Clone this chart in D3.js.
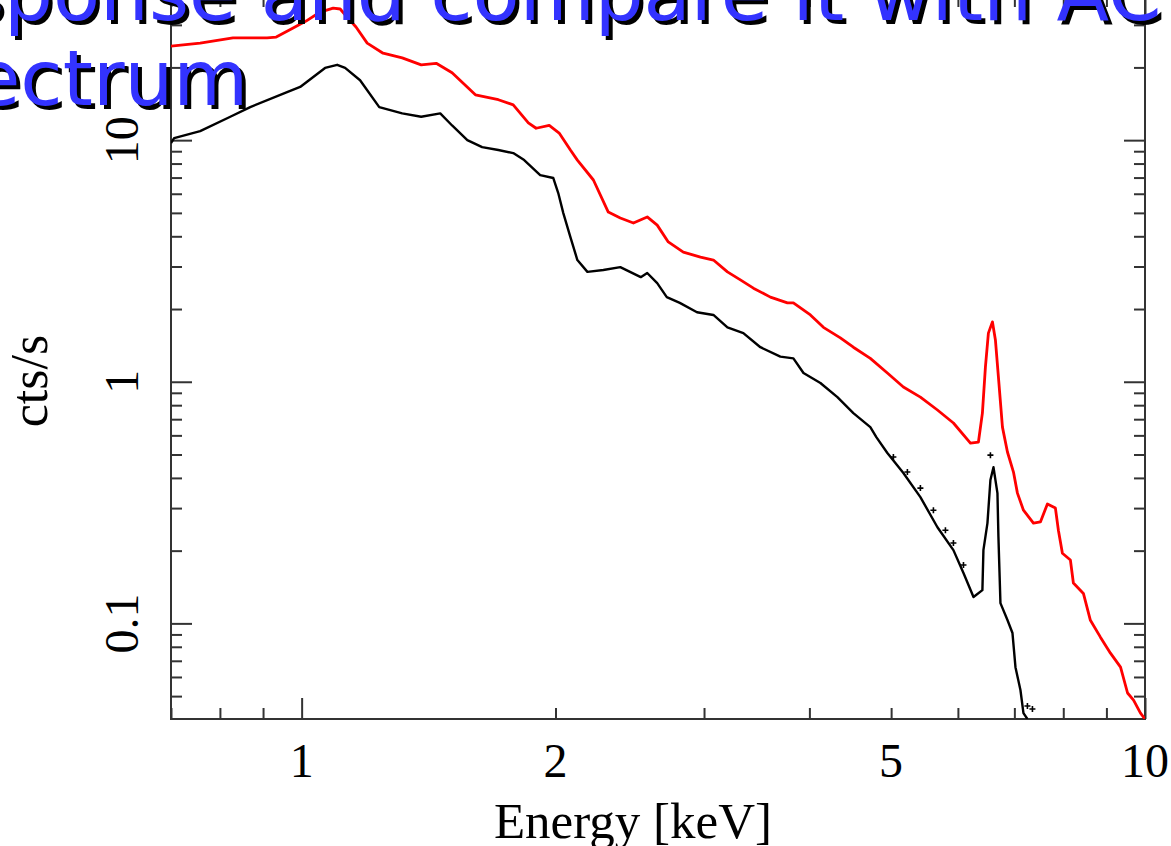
<!DOCTYPE html>
<html>
<head>
<meta charset="utf-8">
<script src="https://cdn.jsdelivr.net/npm/d3@7"></script>
<style>
    body { margin: 0; background: #fff; overflow: hidden; }
    svg { display: block; }
</style>
</head>
<body>
<script>
    // --- Data ---
    const redEnergy = [
        0.700, 0.758, 0.829, 0.910, 0.933, 0.977, 1.012, 1.052, 1.090, 1.111,
        1.132, 1.160, 1.196, 1.249, 1.316, 1.386, 1.444, 1.508, 1.607, 1.711,
        1.782, 1.857, 1.897, 1.966, 2.020, 2.083, 2.123, 2.218, 2.310, 2.387,
        2.474, 2.569, 2.640, 2.721, 2.835, 2.971, 3.078, 3.198, 3.313, 3.433,
        3.596, 3.767, 3.829, 4.011, 4.156, 4.353, 4.510, 4.724, 4.949, 5.170,
        5.416, 5.674, 5.927, 6.209, 6.346, 6.415, 6.468, 6.521, 6.593, 6.647,
        6.702, 6.776, 6.869, 6.983, 7.059, 7.176, 7.374, 7.516, 7.661, 7.830,
        7.894, 7.981, 8.157, 8.224, 8.452, 8.615, 8.854, 9.100, 9.354, 9.535,
        9.692, 9.878, 10.0
    ];
    const redRate = [
        24.5, 25.2, 26.5, 26.5, 26.7, 29.1, 31.1, 33.9, 35.2, 34.9,
        32.3, 29.4, 25.2, 22.9, 21.9, 20.5, 20.8, 19.0, 15.4, 14.7,
        14.0, 11.8, 11.2, 11.5, 10.7, 9.10, 8.27, 6.84, 5.04, 4.76,
        4.54, 4.81, 4.45, 3.79, 3.44, 3.28, 3.19, 2.85, 2.64, 2.44,
        2.24, 2.12, 2.12, 1.89, 1.68, 1.52, 1.39, 1.25, 1.087, 0.951,
        0.864, 0.764, 0.675, 0.557, 0.563, 0.742, 1.150, 1.59, 1.77, 1.49,
        1.046, 0.649, 0.512, 0.423, 0.346, 0.294, 0.260, 0.263, 0.312, 0.300,
        0.243, 0.195, 0.183, 0.147, 0.133, 0.103, 0.0877, 0.0753, 0.0659, 0.0515,
        0.0481, 0.0425, 0.0402
    ];
    const blackEnergy = [
        0.700, 0.706, 0.758, 0.823, 0.869, 0.961, 0.996, 1.066, 1.102, 1.126,
        1.173, 1.236, 1.316, 1.386, 1.460, 1.508, 1.572, 1.637, 1.711, 1.782,
        1.836, 1.918, 1.988, 2.015, 2.043, 2.083, 2.123, 2.182, 2.279, 2.387,
        2.524, 2.569, 2.640, 2.710, 2.808, 2.943, 3.078, 3.198, 3.340, 3.499,
        3.695, 3.829, 3.936, 4.122, 4.318, 4.510, 4.724, 4.802, 4.949, 5.170,
        5.416, 5.674, 5.927, 6.092, 6.261, 6.415, 6.433, 6.504, 6.557, 6.612,
        6.684, 6.702, 6.739, 6.869, 6.964, 7.021, 7.117, 7.176, 7.254
    ];
    const blackRate = [
        9.73, 10.2, 10.9, 12.5, 13.7, 15.8, 16.6, 19.9, 20.5, 19.9,
        17.7, 13.7, 12.9, 12.5, 12.9, 11.5, 10.0, 9.36, 9.10, 8.84,
        8.27, 7.17, 6.97, 6.04, 4.99, 3.97, 3.19, 2.85, 2.90, 2.98,
        2.71, 2.82, 2.56, 2.24, 2.12, 1.94, 1.89, 1.68, 1.59, 1.39,
        1.27, 1.25, 1.087, 0.988, 0.864, 0.742, 0.649, 0.590, 0.507, 0.419,
        0.333, 0.250, 0.201, 0.1615, 0.1285, 0.1373, 0.201, 0.260, 0.392, 0.443,
        0.346, 0.228, 0.1213, 0.1032, 0.0912, 0.0659, 0.0530, 0.0425, 0.0402
    ];
    // a few black data crosses that sit off the model line
    const blackPointEnergy = [5.031, 5.227, 5.416, 5.612, 5.799, 5.927, 6.092, 6.557, 7.254, 7.354];
    const blackPointRate = [0.488, 0.423, 0.363, 0.294, 0.243, 0.215, 0.1743, 0.497, 0.0455, 0.0442];

    const xTickLabels = [1, 2, 5, 10];
    const yTickLabels = [0.1, 1, 10];
    const titleLines = ["sponse and compare it with AC", "ectrum"];

    // --- Layout ---
    const W = 1171, H = 846;
    const PLOT = { left: 171, right: 1145, top: -4, bottom: 719 };
    const AXIS_COLOR = '#333';
    const MAJOR_TICK = 21, MINOR_TICK = 11;
    const SERIF = "'Liberation Serif', 'Times New Roman', serif";

    const x = d3.scaleLog().domain([0.7, 10]).range([PLOT.left, PLOT.right]);
    const y = d3.scaleLog().domain([0.0402, 39.5]).range([PLOT.bottom, PLOT.top]);

    const svg = d3.select('body').append('svg')
        .attr('width', W).attr('height', H)
        .style('background', '#fff');

    svg.append('defs').append('clipPath').attr('id', 'plot-clip')
        .append('rect')
        .attr('x', PLOT.left).attr('y', PLOT.top)
        .attr('width', PLOT.right - PLOT.left).attr('height', PLOT.bottom - PLOT.top);

    // --- Axes: ticks inward on all four sides ---
    const isMajor = v => Math.abs(Math.log10(v) - Math.round(Math.log10(v))) < 1e-9;
    const xMajor = x.ticks().filter(isMajor), xMinor = x.ticks().filter(v => !isMajor(v));
    const yMajor = y.ticks().filter(isMajor), yMinor = y.ticks().filter(v => !isMajor(v));

    const axes = svg.append('g').attr('class', 'axes');
    function addAxis(axisFn, scale, values, size, transform) {
        const g = axes.append('g').attr('transform', transform)
            .call(axisFn(scale).tickValues(values).tickSize(-size).tickSizeOuter(0).tickFormat(''));
        g.select('.domain').remove();
        g.selectAll('.tick line').attr('stroke', AXIS_COLOR).attr('stroke-width', 2);
    }
    [[xMajor, MAJOR_TICK], [xMinor, MINOR_TICK]].forEach(([vals, size]) => {
        addAxis(d3.axisBottom, x, vals, size, `translate(0,${PLOT.bottom})`);
        addAxis(d3.axisTop, x, vals, size, `translate(0,${PLOT.top})`);
    });
    [[yMajor, MAJOR_TICK], [yMinor, MINOR_TICK]].forEach(([vals, size]) => {
        addAxis(d3.axisLeft, y, vals, size, `translate(${PLOT.left},0)`);
        addAxis(d3.axisRight, y, vals, size, `translate(${PLOT.right},0)`);
    });

    axes.append('rect')
        .attr('x', PLOT.left).attr('y', PLOT.top)
        .attr('width', PLOT.right - PLOT.left).attr('height', PLOT.bottom - PLOT.top)
        .attr('fill', 'none').attr('stroke', AXIS_COLOR).attr('stroke-width', 2);

    // tick labels
    svg.append('g').selectAll('text')
        .data(xTickLabels).enter().append('text')
        .attr('x', d => x(d)).attr('y', 777)
        .attr('text-anchor', 'middle')
        .style('font-family', SERIF).style('font-size', '48px')
        .text(d => d);

    svg.append('g').selectAll('text')
        .data(yTickLabels).enter().append('text')
        .attr('transform', d => `translate(138,${y(d)}) rotate(-90)`)
        .attr('text-anchor', 'middle')
        .style('font-family', SERIF).style('font-size', '48px')
        .text(d => d);

    svg.append('text')
        .attr('x', 633).attr('y', 838)
        .attr('text-anchor', 'middle')
        .style('font-family', SERIF).style('font-size', '51px')
        .text('Energy [keV]');

    svg.append('text')
        .attr('transform', `translate(47,381) rotate(-90)`)
        .attr('text-anchor', 'middle')
        .style('font-family', SERIF).style('font-size', '52px')
        .text('cts/s');

    // --- Spectra ---
    const line = d3.line().x(d => x(d[0])).y(d => y(d[1])).curve(d3.curveLinear);
    const plotArea = svg.append('g').attr('clip-path', 'url(#plot-clip)');

    plotArea.append('path')
        .datum(d3.zip(redEnergy, redRate))
        .attr('d', line)
        .attr('fill', 'none').attr('stroke', '#ff0000').attr('stroke-width', 2.8)
        .attr('stroke-linejoin', 'round');

    plotArea.append('path')
        .datum(d3.zip(blackEnergy, blackRate))
        .attr('d', line)
        .attr('fill', 'none').attr('stroke', '#000').attr('stroke-width', 2.4)
        .attr('stroke-linejoin', 'round');

    plotArea.append('g').selectAll('path')
        .data(d3.zip(blackPointEnergy, blackPointRate)).enter().append('path')
        .attr('d', d => {
            const px = x(d[0]), py = y(d[1]), a = 3;
            return `M${px - a},${py}H${px + a}M${px},${py - a}V${py + a}`;
        })
        .attr('stroke', '#000').attr('stroke-width', 1.6);

    // --- Slide title overlaid on the figure ---
    const title = svg.append('g')
        .style('font-family', "'DejaVu Sans', Verdana, sans-serif")
        .style('font-size', '77px');
    const titlePos = [[-36, 20], [-27, 105]];
    [['#000', 4], ['#3333ff', 0]].forEach(([color, off]) => {
        titleLines.forEach((t, i) => {
            title.append('text')
                .attr('x', titlePos[i][0] + off).attr('y', titlePos[i][1] + off)
                .attr('fill', color)
                .text(t);
        });
    });
</script>
</body>
</html>
